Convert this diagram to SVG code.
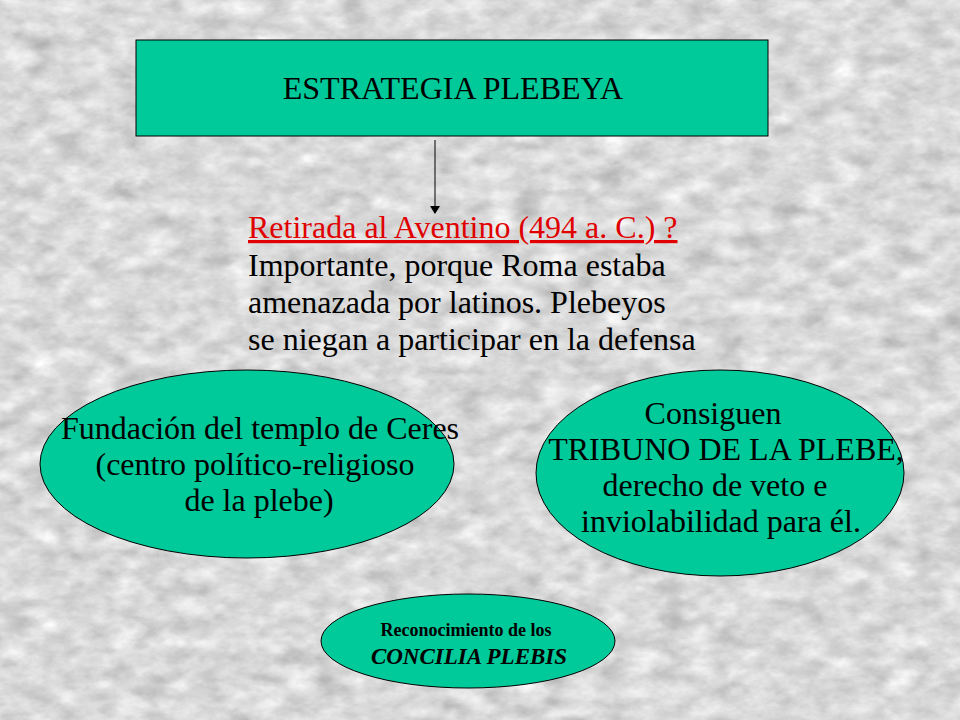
<svg xmlns="http://www.w3.org/2000/svg" width="960" height="720" viewBox="0 0 960 720">
<defs>
<style>
.node{fill:#00C99A;stroke:#000;stroke-width:1}
.t{font-family:"Liberation Serif","Times New Roman",serif;font-size:32px;fill:#000;text-anchor:middle}
.b{font-family:"Liberation Serif","Times New Roman",serif;font-size:32px;fill:#000}
.conn{stroke:#000;stroke-width:1;fill:none}
</style>
<marker id="ah" markerWidth="8" markerHeight="10" refX="7" refY="5" orient="auto" markerUnits="userSpaceOnUse">
<path d="M0,0 L8,5 L0,10 z" fill="#000"/>
</marker>
<filter id="marble" x="0" y="0" width="100%" height="100%" color-interpolation-filters="sRGB">
<feTurbulence type="fractalNoise" baseFrequency="0.035 0.06" numOctaves="5" seed="7" result="n"/>
<feColorMatrix type="matrix" values="0.33 0.33 0.33 0 0  0.33 0.33 0.33 0 0  0.33 0.33 0.33 0 0  0 0 0 0 1" result="g"/>
<feComponentTransfer>
<feFuncR type="linear" slope="0.55" intercept="0.58"/>
<feFuncG type="linear" slope="0.55" intercept="0.58"/>
<feFuncB type="linear" slope="0.55" intercept="0.58"/>
</feComponentTransfer>
</filter>
</defs>
<rect width="960" height="720" fill="#d6d6d6"/>
<rect width="960" height="720" filter="url(#marble)"/>
<g id="connectors">
<line class="conn" x1="435" y1="140" x2="435" y2="213" marker-end="url(#ah)"/>
</g>
<g id="estrategia">
<rect class="node" x="136" y="40" width="632" height="96"/>
<text class="t" x="453" y="99">ESTRATEGIA PLEBEYA</text>
</g>
<g id="retirada">
<text class="b" x="248" y="238" style="fill:#e00000;text-decoration:underline">Retirada al Aventino  (494 a. C.) ?</text>
<text class="b" x="248" y="276">Importante, porque Roma estaba</text>
<text class="b" x="248" y="313">amenazada  por latinos. Plebeyos</text>
<text class="b" x="248" y="350">se niegan a participar en la defensa</text>
</g>
<g id="ceres">
<ellipse class="node" cx="247" cy="464" rx="207" ry="94"/>
<text class="t" x="260" y="439">Fundación  del templo  de Ceres</text>
<text class="t" x="255" y="475">(centro político-religioso</text>
<text class="t" x="259" y="511">de la plebe)</text>
</g>
<g id="tribuno">
<ellipse class="node" cx="720" cy="473" rx="184" ry="103"/>
<text class="t" x="713" y="424">Consiguen</text>
<text class="t" x="726" y="460">TRIBUNO DE LA PLEBE,</text>
<text class="t" x="715" y="496">derecho de veto e</text>
<text class="t" x="721" y="532">inviolabilidad para él.</text>
</g>
<g id="concilia">
<ellipse class="node" cx="468" cy="641" rx="147" ry="47"/>
<text class="t" x="466" y="636" style="font-size:18px;font-weight:bold">Reconocimiento de los</text>
<text class="t" x="469" y="664" style="font-size:23px;font-weight:bold;font-style:italic">CONCILIA PLEBIS</text>
</g>
</svg>
